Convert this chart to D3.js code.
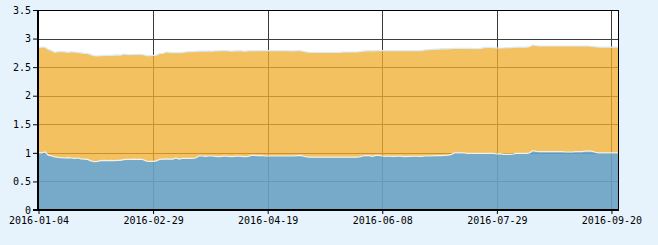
<!DOCTYPE html>
<html><head><meta charset="utf-8">
<script src="https://cdn.jsdelivr.net/npm/d3@7"></script>
<style>
html,body{margin:0;padding:0;background:#e7f3fc;}
svg{display:block;}
</style></head><body>
<svg id="c" width="658" height="245"></svg>
<script>
// Tick labels on the x axis (trading-day category axis)
const tickLabels = ["2016-01-04","2016-02-29","2016-04-19","2016-06-08","2016-07-29","2016-09-20"];
const yTicks = [0,0.5,1,1.5,2,2.5,3,3.5];
// Exchange holidays (non-trading weekdays) used to build the category list
const holidays = ["2016-01-01","2016-02-08","2016-02-09","2016-02-10","2016-02-11","2016-02-12",
  "2016-04-04","2016-05-02","2016-06-09","2016-06-10","2016-09-15","2016-09-16"];
const startDate = "2016-01-04";
const nPoints = 178;

// Lower series (blue)
const seriesBlue = [
1.00,1.00,1.015,0.96,0.945,0.93,0.92,0.915,0.91,0.915,
0.91,0.905,0.91,0.895,0.89,0.885,0.86,0.845,0.85,0.865,
0.87,0.865,0.87,0.865,0.87,0.87,0.88,0.885,0.885,0.89,
0.885,0.89,0.88,0.855,0.85,0.85,0.86,0.885,0.89,0.895,
0.89,0.89,0.91,0.89,0.905,0.905,0.905,0.905,0.91,0.945,
0.945,0.94,0.945,0.945,0.94,0.935,0.94,0.945,0.94,0.935,
0.94,0.945,0.94,0.935,0.94,0.955,0.955,0.95,0.955,0.945,
0.945,0.945,0.945,0.945,0.945,0.945,0.945,0.945,0.945,0.95,
0.955,0.94,0.93,0.925,0.925,0.925,0.925,0.925,0.925,0.925,
0.925,0.925,0.925,0.925,0.925,0.925,0.925,0.925,0.93,0.945,
0.95,0.95,0.94,0.955,0.955,0.945,0.94,0.945,0.94,0.94,
0.945,0.94,0.935,0.94,0.94,0.945,0.94,0.94,0.945,0.945,
0.945,0.95,0.95,0.95,0.955,0.96,0.97,1.0,1.0,1.0,
1.0,0.99,0.99,0.99,0.99,0.99,0.99,0.99,0.99,0.99,
0.98,0.985,0.975,0.975,0.975,0.98,0.99,0.99,0.99,0.99,
1.0,1.04,1.025,1.02,1.02,1.02,1.02,1.02,1.02,1.02,
1.02,1.015,1.015,1.015,1.02,1.02,1.02,1.03,1.035,1.03,
1.01,1.0,1.0,1.0,1.0,1.0,1.0,1.0
];
// Upper series (orange), stacked on the blue one
const seriesOrange = [
1.845,1.85,1.835,1.85,1.845,1.83,1.85,1.86,1.86,1.845,
1.86,1.86,1.85,1.855,1.85,1.855,1.86,1.855,1.845,1.835,
1.835,1.845,1.835,1.845,1.845,1.84,1.85,1.84,1.835,1.835,
1.84,1.835,1.84,1.845,1.85,1.855,1.85,1.855,1.85,1.87,
1.87,1.865,1.845,1.865,1.855,1.86,1.865,1.865,1.865,1.835,
1.835,1.84,1.84,1.835,1.845,1.85,1.85,1.845,1.845,1.845,
1.845,1.845,1.845,1.845,1.845,1.835,1.835,1.84,1.835,1.845,
1.845,1.845,1.845,1.845,1.845,1.845,1.845,1.84,1.84,1.84,
1.835,1.835,1.835,1.835,1.835,1.835,1.835,1.835,1.835,1.835,
1.835,1.835,1.835,1.84,1.84,1.84,1.84,1.84,1.84,1.835,
1.835,1.84,1.845,1.835,1.835,1.845,1.85,1.845,1.85,1.85,
1.845,1.85,1.855,1.85,1.85,1.845,1.85,1.85,1.855,1.86,
1.865,1.865,1.865,1.87,1.865,1.86,1.855,1.83,1.83,1.83,
1.83,1.84,1.84,1.835,1.835,1.84,1.85,1.855,1.855,1.85,
1.855,1.85,1.86,1.865,1.865,1.865,1.86,1.86,1.86,1.86,
1.86,1.85,1.85,1.85,1.85,1.85,1.85,1.85,1.85,1.85,
1.85,1.855,1.855,1.855,1.85,1.85,1.85,1.84,1.835,1.835,
1.85,1.85,1.85,1.85,1.85,1.85,1.85,1.85
];

// build trading-day categories
const hol = new Set(holidays);
const dates = [];
{
  let d = new Date(startDate + "T00:00:00Z");
  while (dates.length < nPoints) {
    const s = d.toISOString().slice(0,10);
    const wd = d.getUTCDay();
    if (wd !== 0 && wd !== 6 && !hol.has(s)) dates.push(s);
    d = new Date(d.getTime() + 86400000);
  }
}
const rows = dates.map((dt,i)=>({date:dt, blue:seriesBlue[i], orange:seriesOrange[i]}));
const stacked = d3.stack().keys(["blue","orange"])(rows);

const svg = d3.select("#c");
const L=38, R=618, T=10, B=210;
const x = d3.scalePoint().domain(dates).range([L+0.5, R]);
const y = d3.scaleLinear().domain([0,3.5]).range([B, T]);
const font = "'DejaVu Sans Mono', 'Liberation Mono', monospace";

svg.append("rect").attr("x",L).attr("y",T).attr("width",R-L).attr("height",B-T).attr("fill","#ffffff");

function drawGrid(g, color){
  yTicks.forEach(v=>{
    if (v===0) return;
    const yy = Math.round(y(v))+0.5;
    g.append("line").attr("x1",L).attr("x2",R).attr("y1",yy).attr("y2",yy)
      .attr("stroke",color).attr("stroke-width",1);
  });
  tickLabels.forEach(t=>{
    const xx = Math.round(x(t))+0.5;
    if (t===tickLabels[0]) return;
    g.append("line").attr("x1",xx).attr("x2",xx).attr("y1",T).attr("y2",B)
      .attr("stroke",color).attr("stroke-width",1);
  });
}
drawGrid(svg.append("g"), "#3c3c3c");

const area = d3.area().x(d=>x(d.data.date)).y0(d=>y(d[0])).y1(d=>y(d[1]));
const topLine = d3.line().x(d=>x(d.data.date)).y(d=>y(d[1]));
const fills = ["#76aac8","#f4c160"];
const gridTints = ["#6798b6","#c9922f"];
const edge = ["#f3f1e6","#d9ecf7"];

const defs = svg.append("defs");
stacked.forEach((s,i)=>{
  defs.append("clipPath").attr("id","clip"+i).append("path").attr("d",area(s));
});
stacked.slice().reverse().forEach((s)=>{
  const i = stacked.indexOf(s);
  svg.append("path").attr("d",area(s)).attr("fill",fills[i]);
});
stacked.forEach((s,i)=>{
  drawGrid(svg.append("g").attr("clip-path","url(#clip"+i+")"), gridTints[i]);
});
stacked.slice().reverse().forEach((s)=>{
  const i = stacked.indexOf(s);
  svg.append("path").attr("d",topLine(s)).attr("fill","none")
    .attr("stroke",edge[i]).attr("stroke-width",1.2);
});

// frame top/right
svg.append("line").attr("x1",L).attr("x2",R+1).attr("y1",T+0.5).attr("y2",T+0.5).attr("stroke","#000");
svg.append("line").attr("x1",R+0.5).attr("x2",R+0.5).attr("y1",T).attr("y2",B).attr("stroke","#000");

// axes
const xAxis = d3.axisBottom(x).tickValues(tickLabels).tickSizeInner(4).tickSizeOuter(0).tickPadding(3);
const gx = svg.append("g").attr("transform",`translate(0,${B})`).call(xAxis);
gx.select(".domain").remove();
gx.selectAll(".tick line").attr("stroke","#000");
gx.selectAll(".tick text").attr("font-family",font).attr("font-size","10px").attr("fill","#000");

const yAxis = d3.axisLeft(y).tickValues(yTicks).tickSizeInner(5).tickSizeOuter(0).tickPadding(2)
  .tickFormat(d3.format("~g"));
const gy = svg.append("g").attr("transform",`translate(${L},0)`).call(yAxis);
gy.select(".domain").remove();
gy.selectAll(".tick line").attr("stroke","#000");
gy.selectAll(".tick text").attr("font-family",font).attr("font-size","10px").attr("fill","#000");

svg.append("line").attr("x1",L).attr("x2",L).attr("y1",T).attr("y2",B+1).attr("stroke","#000").attr("stroke-width",2);
svg.append("line").attr("x1",L-5).attr("x2",R+1).attr("y1",B).attr("y2",B).attr("stroke","#000").attr("stroke-width",2);
</script>
</body></html>
